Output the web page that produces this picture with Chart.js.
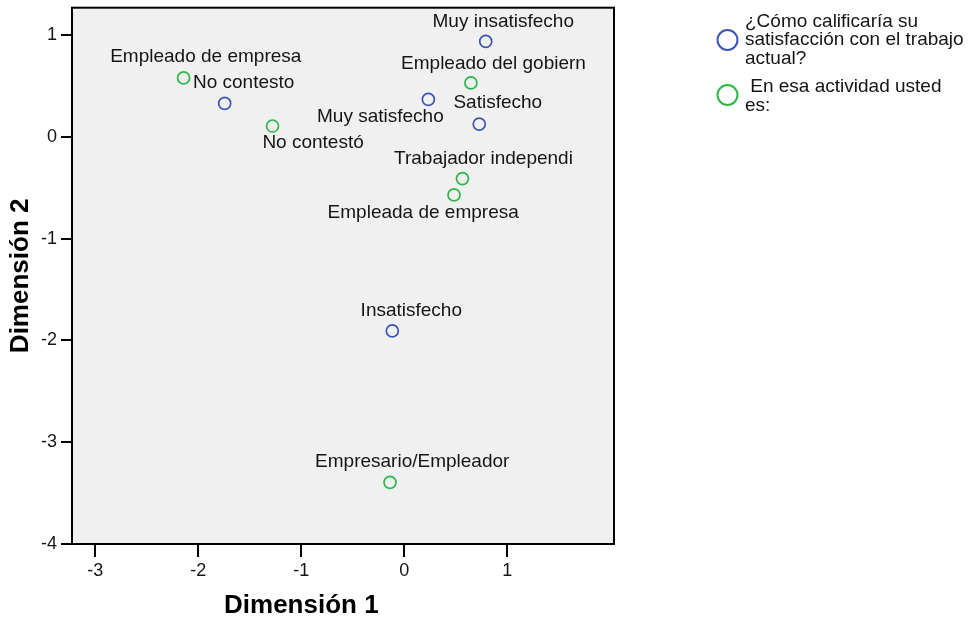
<!DOCTYPE html>
<html>
<head>
<meta charset="utf-8">
<script src="https://cdn.jsdelivr.net/npm/chart.js@4/dist/chart.umd.min.js"></script>
<style>
  body { margin: 0; background: #fff; }
  #wrap { width: 973px; height: 619px; }
</style>
</head>
<body>
<div id="wrap"><canvas id="myScatter"></canvas></div>
<script>
// satisfaction categories (blue)
const satLabels = ['Muy insatisfecho', 'No contesto', 'Muy satisfecho', 'Satisfecho', 'Insatisfecho'];
const satX = [0.79, -1.744, 0.233, 0.727, -0.117];
const satY = [0.936, 0.327, 0.366, 0.124, -1.907];

// activity categories (green)
const actLabels = ['Empleado de empresa', 'No contestó', 'Empleado del gobiern', 'Trabajador independi', 'Empleada de empresa', 'Empresario/Empleador'];
const actX = [-2.143, -1.28, 0.646, 0.564, 0.482, -0.139];
const actY = [0.577, 0.105, 0.528, -0.411, -0.572, -3.394];

const xTicks = [-3, -2, -1, 0, 1];
const yTicks = [1, 0, -1, -2, -3, -4];

const legendText = [
  ['¿Cómo calificaría su', 'satisfacción con el trabajo', 'actual?'],
  [' En esa actividad usted', 'es:']
];

const blue = '#3d55b3';
const green = '#2db849';
const font = '"Liberation Sans", Arial, sans-serif';

// label offsets (px) from the point centre, default is up-right
const labelOffset = {
  'Muy insatisfecho': [17.5, -20],
  'Empleado del gobiern': [22.6, -19.5],
  'Satisfecho': [18.5, -21],
  'Muy satisfecho': [-48, 17.5],
  'Empleado de empresa': [22.2, -20.7],
  'No contesto': [19, -20.6],
  'No contestó': [40.6, 16.7],
  'Trabajador independi': [21, -19.7],
  'Empleada de empresa': [-30.8, 17.7],
  'Insatisfecho': [19, -20.4],
  'Empresario/Empleador': [22.2, -20.2]
};

function toPoints(xs, ys, names) {
  return xs.map((x, i) => ({ x: x, y: ys[i], name: names[i] }));
}

const framePlugin = {
  id: 'frame',
  beforeDatasetsDraw(chart) {
    const { ctx, chartArea: a } = chart;
    ctx.save();
    ctx.fillStyle = '#f0f0f0';
    ctx.fillRect(a.left, a.top, a.right - a.left, a.bottom - a.top);
    ctx.restore();
  },
  afterDraw(chart) {
    const { ctx, chartArea: a, scales } = chart;
    ctx.save();
    ctx.strokeStyle = '#000';
    ctx.lineWidth = 2;
    ctx.strokeRect(a.left, a.top, a.right - a.left, a.bottom - a.top);

    // point labels
    ctx.fillStyle = '#151515';
    ctx.font = '19px ' + font;
    ctx.textAlign = 'center';
    ctx.textBaseline = 'middle';
    chart.data.datasets.forEach((ds, di) => {
      chart.getDatasetMeta(di).data.forEach((el, i) => {
        const name = ds.data[i].name;
        const off = labelOffset[name] || [20, -20];
        ctx.fillText(name, el.x + off[0], el.y + off[1]);
      });
    });

    // axis titles
    ctx.font = 'bold 26px ' + font;
    ctx.textBaseline = 'alphabetic';
    ctx.fillStyle = '#000';
    const xs = scales.x;
    const xc = (xs.getPixelForValue(xTicks[0]) + xs.getPixelForValue(xTicks[xTicks.length - 1])) / 2;
    ctx.fillText('Dimensión 1', xc, 613);
    ctx.save();
    ctx.translate(28, (a.top + a.bottom) / 2);
    ctx.rotate(-Math.PI / 2);
    ctx.fillText('Dimensión 2', 0, 0);
    ctx.restore();

    // legend
    ctx.font = '19px ' + font;
    ctx.textAlign = 'left';
    const items = [
      { color: blue, cx: 727.5, cy: 40, lines: legendText[0], base: 26.7 },
      { color: green, cx: 727.5, cy: 95, lines: legendText[1], base: 92 }
    ];
    items.forEach(it => {
      ctx.beginPath();
      ctx.arc(it.cx, it.cy, 10, 0, Math.PI * 2);
      ctx.strokeStyle = it.color;
      ctx.lineWidth = 2;
      ctx.stroke();
      ctx.fillStyle = '#151515';
      it.lines.forEach((line, k) => {
        ctx.fillText(line, 745, it.base + k * 18.7);
      });
    });
    ctx.restore();
  }
};

const ctx = document.getElementById('myScatter').getContext('2d');

const config = {
  type: 'scatter',
  data: {
    datasets: [
      {
        label: legendText[0].join(' '),
        data: toPoints(satX, satY, satLabels),
        borderColor: blue,
        backgroundColor: 'transparent',
        borderWidth: 1.7,
        pointRadius: 6,
        pointHoverRadius: 6
      },
      {
        label: legendText[1].join(' '),
        data: toPoints(actX, actY, actLabels),
        borderColor: green,
        backgroundColor: 'transparent',
        borderWidth: 1.7,
        pointRadius: 6,
        pointHoverRadius: 6
      }
    ]
  },
  options: {
    responsive: true,
    maintainAspectRatio: false,
    animation: false,
    layout: { padding: { top: 6, right: 359, left: 0, bottom: 0 } },
    plugins: {
      legend: { display: false },
      tooltip: { enabled: false }
    },
    scales: {
      x: {
        type: 'linear',
        min: -3.226,
        max: 2.035,
        afterBuildTicks: scale => { scale.ticks = xTicks.map(v => ({ value: v })); },
        afterFit: scale => {
          scale.height = 75;
          scale.paddingLeft = 0;
          scale.paddingRight = 0;
        },
        grid: { drawOnChartArea: false, color: '#000', lineWidth: 2, tickLength: 13 },
        border: { display: false },
        ticks: { color: '#151515', font: { size: 18, family: font }, padding: 3, maxRotation: 0 }
      },
      y: {
        type: 'linear',
        min: -4,
        max: 1.267,
        afterBuildTicks: scale => { scale.ticks = yTicks.map(v => ({ value: v })); },
        afterFit: scale => {
          scale.width = 72;
          scale.paddingTop = 0;
          scale.paddingBottom = 0;
        },
        grid: { drawOnChartArea: false, color: '#000', lineWidth: 2, tickLength: 11 },
        border: { display: false },
        ticks: { color: '#151515', font: { size: 18, family: font }, padding: 4 }
      }
    }
  },
  plugins: [framePlugin]
};

const myScatter = new Chart(ctx, config);
</script>
</body>
</html>
